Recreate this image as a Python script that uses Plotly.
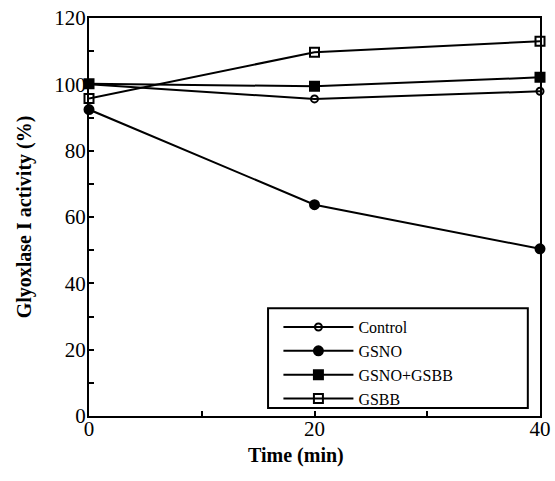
import plotly.graph_objects as go

time = [0, 20, 40]
control = [100.0, 95.6, 97.9]
gsno = [92.4, 63.7, 50.4]
gsno_gsbb = [100.2, 99.4, 102.1]
gsbb = [95.7, 109.7, 113.0]

series = [
    ("Control", control, "circle-open", 7),
    ("GSNO", gsno, "circle", 9),
    ("GSNO+GSBB", gsno_gsbb, "square", 9),
    ("GSBB", gsbb, "square-open", 9),
]

fig = go.Figure()
for name, vals, sym, size in series:
    fig.add_trace(go.Scatter(
        x=time, y=vals, name=name, mode="lines+markers",
        line=dict(color="black", width=2),
        marker=dict(symbol=sym, size=size, color="black",
                    line=dict(color="black", width=2)),
        cliponaxis=False,
    ))

font_family = "Liberation Serif"
fig.update_layout(
    width=555, height=481,
    margin=dict(l=89, r=15, t=18, b=65, autoexpand=False),
    paper_bgcolor="white", plot_bgcolor="white",
    font=dict(family=font_family, color="black", size=19),
    showlegend=True,
    legend=dict(
        x=0.42, y=0.266, xanchor="left", yanchor="top",
        borderwidth=0, bgcolor="rgba(0,0,0,0)",
        font=dict(size=16, family=font_family, color="black"),
        itemwidth=70, tracegroupgap=0,
    ),
    shapes=[dict(type="rect", xref="paper", yref="paper",
                 x0=0.397, x1=0.973, y0=0.020, y1=0.271,
                 line=dict(color="black", width=2), layer="above")],
    annotations=[dict(text="<b>Time (min)</b>", xref="paper", yref="paper",
                      x=0.459, y=-0.10, xanchor="center", yanchor="middle",
                      showarrow=False, font=dict(size=20))],
    xaxis=dict(
        range=[0, 40], tickvals=[0, 20, 40], showgrid=False, zeroline=False,
        showline=True, linecolor="black", linewidth=2, mirror=True,
        ticks="inside", ticklen=5, tickwidth=2, tickcolor="black",
        minor=dict(tickvals=[10, 30], ticks="inside", ticklen=5, tickwidth=2, tickcolor="black"),
        tickfont=dict(size=21), automargin=False,
        ticklabeloverflow="allow", ticklabelstandoff=-7,
    ),
    yaxis=dict(
        range=[0, 120], tickvals=[0, 20, 40, 60, 80, 100, 120], showgrid=False, zeroline=False,
        showline=True, linecolor="black", linewidth=2, mirror=True,
        ticks="inside", ticklen=5, tickwidth=2, tickcolor="black",
        minor=dict(dtick=10, ticks="inside", ticklen=5, tickwidth=2, tickcolor="black"),
        tickfont=dict(size=21), automargin=False,
        ticklabeloverflow="allow", ticklabelstandoff=-3,
        title=dict(text="<b>Glyoxlase I activity (%)</b>", font=dict(size=20), standoff=17),
    ),
)

fig.write_html("out.html", config={"displayModeBar": False},
               post_script="document.body.style.margin='0';")
